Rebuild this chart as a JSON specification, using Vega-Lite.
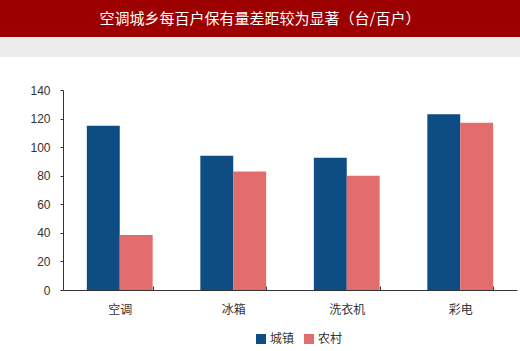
{
  "$schema": "https://vega.github.io/schema/vega-lite/v6.json",
  "padding": 0,
  "spacing": 0,
  "columns": 1,
  "background": "white",
  "config": {"view": {"stroke": null}},
  "concat": [
    {
      "width": 520,
      "height": 37,
      "view": {"fill": "#9c0000", "stroke": null},
      "data": {"values": [{"t": "空调城乡每百户保有量差距较为显著（台/百户）"}]},
      "mark": {"type": "text", "color": "white", "fontSize": 15, "font": "Noto Sans CJK SC"},
      "encoding": {"text": {"field": "t"}}
    },
    {
      "width": 520,
      "height": 20,
      "view": {"fill": "#ececec", "stroke": null},
      "data": {"values": [{"t": ""}]},
      "mark": {"type": "text"},
      "encoding": {"text": {"field": "t"}}
    },
    {
      "width": 517,
      "height": 200,
      "title": {"text": " ", "fontSize": 10, "offset": 17},
      "data": {"values": [
        {"cat": "空调", "series": "城镇", "value": 115},
        {"cat": "空调", "series": "农村", "value": 38.5},
        {"cat": "冰箱", "series": "城镇", "value": 94},
        {"cat": "冰箱", "series": "农村", "value": 83},
        {"cat": "洗衣机", "series": "城镇", "value": 92.5},
        {"cat": "洗衣机", "series": "农村", "value": 80},
        {"cat": "彩电", "series": "城镇", "value": 123},
        {"cat": "彩电", "series": "农村", "value": 117}
      ]},
      "mark": {"type": "bar"},
      "encoding": {
        "x": {
          "field": "cat", "type": "nominal", "sort": ["空调", "冰箱", "洗衣机", "彩电"],
          "scale": {"paddingInner": 0.42, "paddingOuter": 0.21, "range": [63, 517]},
          "axis": {"title": null, "labelAngle": 0, "labelFont": "Noto Sans CJK SC", "labelFontSize": 12, "labelColor": "#333333",
                   "tickBand": "extent", "tickSize": -4, "tickColor": "#333333", "domainColor": "#333333", "labelPadding": 18}
        },
        "xOffset": {"field": "series", "type": "nominal", "sort": ["城镇", "农村"], "scale": {"paddingInner": 0, "paddingOuter": 0}},
        "y": {
          "field": "value", "type": "quantitative",
          "scale": {"domain": [0, 140]},
          "axis": {"title": null, "values": [0, 20, 40, 60, 80, 100, 120, 140], "grid": false, "tickSize": 3, "tickColor": "#333333",
                   "domainColor": "#333333", "labelFont": "Liberation Sans", "labelFontSize": 12, "labelColor": "#333333",
                   "labelPadding": 10, "offset": -63}
        },
        "color": {
          "field": "series", "type": "nominal", "sort": ["城镇", "农村"],
          "scale": {"domain": ["城镇", "农村"], "range": ["#0d4d83", "#e36c6c"]},
          "legend": {"title": null, "orient": "none", "legendX": 255, "legendY": 333, "direction": "horizontal", "symbolType": "square", "symbolSize": 100,
                     "labelFont": "Noto Sans CJK SC", "labelFontSize": 12, "labelColor": "#333333", "columnPadding": 8, "labelOffset": 3}
        }
      }
    }
  ]
}
